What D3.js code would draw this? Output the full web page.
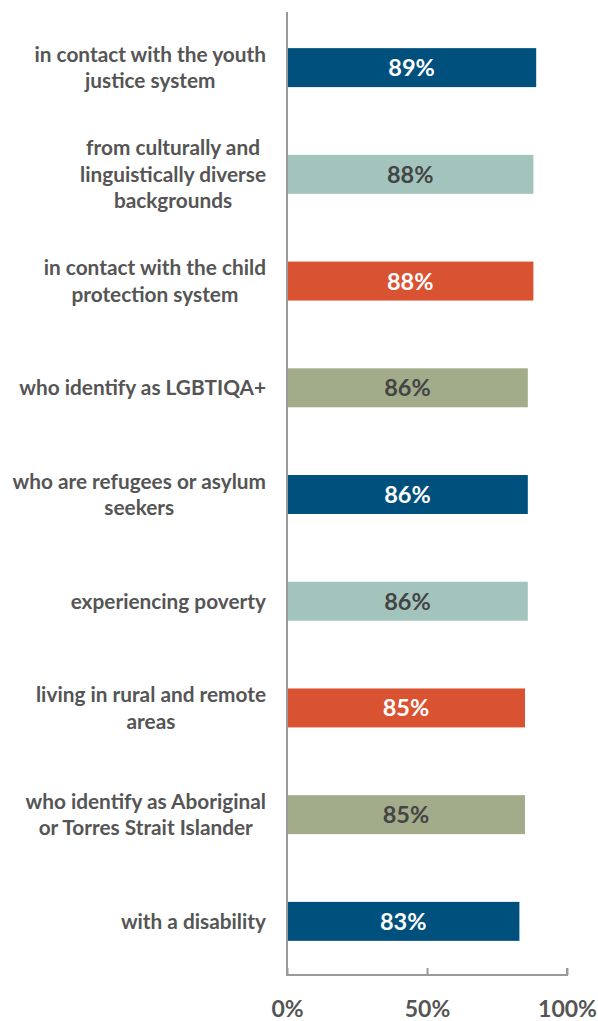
<!DOCTYPE html>
<html>
<head>
<meta charset="utf-8">
<script src="https://cdn.jsdelivr.net/npm/d3@7"></script>
<style>
  body { margin: 0; background: #fff; }
  text { font-family: Lato, "Open Sans", sans-serif; font-weight: bold; }
</style>
</head>
<body>
<div id="chart"></div>
<script>
const categories = [
    ["in contact with the youth", "justice system"],
    ["from culturally and", "linguistically diverse", "backgrounds"],
    ["in contact with the child", "protection system"],
    ["who identify as LGBTIQA+"],
    ["who are refugees or asylum", "seekers"],
    ["experiencing poverty"],
    ["living in rural and remote", "areas"],
    ["who identify as Aboriginal", "or Torres Strait Islander"],
    ["with a disability"]
];
const values = [89, 88, 88, 86, 86, 86, 85, 85, 83];
const barColors = ["#00507d", "#a3c4bd", "#d95232", "#a2ab8a", "#00507d", "#a3c4bd", "#d95232", "#a2ab8a", "#00507d"];
const valueTextColors = ["#fff", "#444", "#fff", "#444", "#fff", "#444", "#fff", "#444", "#fff"];
const tickValues = [0, 50, 100];

const width = 598, height = 1021;
const axisX = 287, axisBottom = 975, axisTop = 12;
const labelRight = 266;

const svg = d3.select("#chart").append("svg")
    .attr("width", width)
    .attr("height", height);

const x = d3.scaleLinear().domain([0, 100]).range([axisX, axisX + 280]);
const y = d3.scaleBand()
    .domain(d3.range(values.length))
    .range([axisTop + 2, axisBottom])
    .paddingInner(0.635)
    .paddingOuter(0.32);

// bars
svg.selectAll("rect.bar")
    .data(values)
    .join("rect")
        .attr("class", "bar")
        .attr("x", x(0))
        .attr("y", (d, i) => y(i))
        .attr("width", d => x(d) - x(0))
        .attr("height", y.bandwidth())
        .attr("fill", (d, i) => barColors[i]);

// value labels
svg.selectAll("text.val")
    .data(values)
    .join("text")
        .attr("class", "val")
        .attr("x", d => (x(0) + x(d)) / 2)
        .attr("y", (d, i) => y(i) + y.bandwidth() / 2)
        .attr("dy", "0.36em")
        .attr("text-anchor", "middle")
        .style("font-size", "23.5px")
        .attr("fill", (d, i) => valueTextColors[i])
        .text(d => d + "%");

// category labels: block right aligned, lines centered within block
const lineH = 26.5;
categories.forEach((lines, i) => {
    const g = svg.append("g");
    const cy = y(i) + y.bandwidth() / 2;
    const texts = lines.map((t, j) => g.append("text")
        .attr("y", cy + (j - (lines.length - 1) / 2) * lineH)
        .attr("dy", "0.36em")
        .attr("text-anchor", "middle")
        .style("font-size", "20.8px")
        .attr("fill", "#555")
        .text(t));
    const maxW = d3.max(texts, t => t.node().getComputedTextLength());
    texts.forEach(t => t.attr("x", labelRight - maxW / 2));
});

// axes
const axisColor = "#999";
svg.append("line")
    .attr("x1", axisX).attr("x2", axisX)
    .attr("y1", axisTop).attr("y2", axisBottom)
    .attr("stroke", axisColor).attr("stroke-width", 2);

const xAxis = svg.append("g")
    .attr("transform", "translate(0," + axisBottom + ")")
    .call(d3.axisTop(x).tickValues(tickValues).tickSize(7).tickFormat(d => d + "%"));
xAxis.select(".domain").attr("stroke", axisColor).attr("stroke-width", 2)
    .attr("d", "M" + x(0) + ",-7V0H" + x(100) + "V-7");
xAxis.selectAll(".tick line").attr("stroke", axisColor).attr("stroke-width", 2);
xAxis.selectAll(".tick text")
    .attr("y", 34)
    .attr("dy", "0.36em")
    .attr("fill", "#555")
    .style("font-size", "23px")
    .style("font-family", "Lato, sans-serif")
    .style("font-weight", "bold");
</script>
</body>
</html>
